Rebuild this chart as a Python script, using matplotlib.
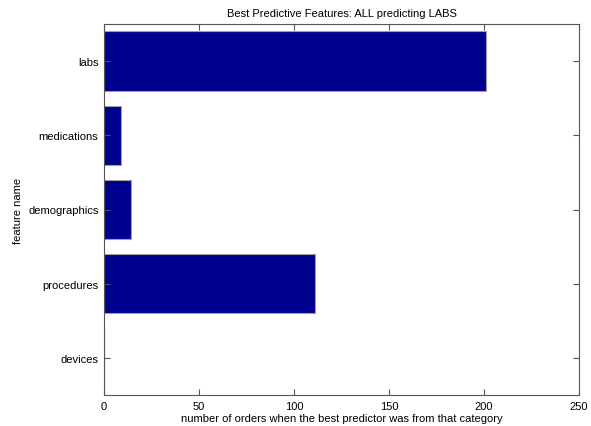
import numpy as np
import matplotlib.pyplot as plt

plt.rcParams['font.family'] = ['Liberation Sans', 'DejaVu Sans']
plt.rcParams['font.size'] = 8

# bars from bottom to top
categories = ['devices', 'procedures', 'demographics', 'medications', 'labs']
counts = [0, 111, 14, 9, 201]

fig = plt.figure(figsize=(5.91, 4.27), dpi=100)
ax = fig.add_axes([104 / 591, 1 - 396 / 427, (579 - 104) / 591, (396 - 25) / 427])

pos = np.arange(1, len(categories) + 1)
ax.barh(pos, counts, height=0.8, color='#00008f', edgecolor='#a0a0a0', linewidth=0.8)

ax.set_xlim(0, 250)
ax.set_ylim(0.5, 5.5)
ax.set_yticks(pos)
ax.set_yticklabels(categories)
ax.set_xticks([0, 50, 100, 150, 200, 250])
ax.tick_params(direction='in', top=True, right=True, length=4, color='#555555', pad=4)
for s in ax.spines.values():
    s.set_color('#555555')
    s.set_linewidth(0.8)

ax.set_title('Best Predictive Features: ALL predicting LABS', fontsize=8, pad=6)
ax.set_xlabel('number of orders when the best predictor was from that category', labelpad=2)
ax.set_ylabel('feature name', labelpad=4)

fig.savefig('out.png', dpi=100)
